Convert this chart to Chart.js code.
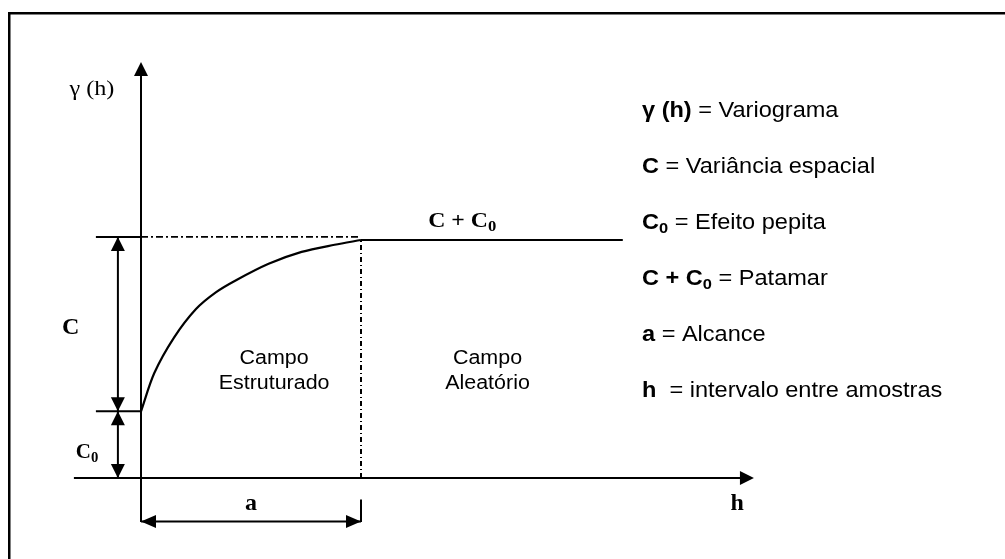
<!DOCTYPE html>
<html>
<head>
<meta charset="utf-8">
<script src="https://cdn.jsdelivr.net/npm/chart.js@4/dist/chart.umd.min.js"></script>
<style>
  html, body { margin: 0; padding: 0; background: #fff; }
  canvas { display: block; }
</style>
</head>
<body>
<canvas id="c" width="1005" height="559"></canvas>
<script>
// Lag distance h (in units of the range a) and semivariance γ(h) (in units of the sill C + C0)
const lagH   = [0, 0.06, 0.15, 0.25, 0.34, 0.43, 0.58, 0.73, 0.88, 1.0];
const gammaH = [0.28, 0.44, 0.59, 0.71, 0.78, 0.83, 0.90, 0.95, 0.98, 1.0];

const nugget = 0.28;       // C0
const sill = 1.0;          // C + C0
const sillGuide = 1.013;   // dash-dot reference level of the sill
const rangeA = 1.0;        // a
const plateauEnd = 2.19;   // end of the flat part of the model

// extent of the two drawn axes
const xAxisSpan = [-0.305, 2.786];
const yAxisSpan = [-0.185, 1.748];

// legend text
const legendSymbols  = [['γ (h)', ''], ['C', ''], ['C', '0'], ['C + C', '0'], ['a', ''], ['h', '']];
const legendMeanings = [' = Variograma', ' = Variância espacial', ' = Efeito pepita', ' = Patamar', ' = Alcance', '  = intervalo entre amostras'];

const dimX = -0.105;      // position of the vertical dimension arrows
const tickFrom = -0.205;  // start of the short level ticks
const dimY = -0.183;      // level of the horizontal dimension arrow for a
const dimTickTop = -0.09;

const SANS = '"Liberation Sans", Arial, sans-serif';
const SERIF = '"Liberation Serif", "Times New Roman", serif';

function seg(points, extra) {
  return Object.assign({
    data: points,
    showLine: true,
    borderColor: '#000',
    borderWidth: 2,
    pointRadius: 0,
    fill: false,
    tension: 0
  }, extra || {});
}

const datasets = [
  // variogram model
  seg(lagH.map((h, i) => ({ x: h, y: gammaH[i] })), { tension: 0.3, borderWidth: 2.2 }),
  // sill plateau
  seg([{ x: rangeA, y: sill }, { x: plateauEnd, y: sill }], { borderWidth: 2 }),
  // dash-dot guide to the sill
  seg([{ x: 0, y: sillGuide }, { x: rangeA, y: sillGuide }], { borderWidth: 1.6, borderDash: [7, 3, 2, 3] }),
  // dash-dot line at the range
  seg([{ x: rangeA, y: 0 }, { x: rangeA, y: sill }], { borderWidth: 2, borderDash: [5, 3, 1, 3] }),
  // axes
  seg([{ x: xAxisSpan[0], y: 0 }, { x: xAxisSpan[1] - 0.05, y: 0 }]),
  seg([{ x: 0, y: yAxisSpan[0] }, { x: 0, y: yAxisSpan[1] - 0.05 }]),
  // level ticks
  seg([{ x: tickFrom, y: sillGuide }, { x: 0, y: sillGuide }]),
  seg([{ x: tickFrom, y: nugget }, { x: 0, y: nugget }]),
  // dimension arrows C and C0
  seg([{ x: dimX, y: nugget }, { x: dimX, y: sillGuide }]),
  seg([{ x: dimX, y: 0 }, { x: dimX, y: nugget }]),
  // dimension arrow a
  seg([{ x: 0, y: dimY }, { x: rangeA, y: dimY }]),
  seg([{ x: rangeA, y: dimTickTop }, { x: rangeA, y: yAxisSpan[0] }])
];

function arrowHead(ctx, x, y, dir, len, half) {
  ctx.beginPath();
  ctx.moveTo(x, y);
  if (dir === 'up')    { ctx.lineTo(x - half, y + len); ctx.lineTo(x + half, y + len); }
  if (dir === 'down')  { ctx.lineTo(x - half, y - len); ctx.lineTo(x + half, y - len); }
  if (dir === 'left')  { ctx.lineTo(x + len, y - half); ctx.lineTo(x + len, y + half); }
  if (dir === 'right') { ctx.lineTo(x - len, y - half); ctx.lineTo(x - len, y + half); }
  ctx.closePath();
  ctx.fill();
}

// draws runs of [text, subscript] with a horizontal stretch; returns the advance
function drawRuns(ctx, runs, x, y, opt) {
  const st = opt.stretch || 1;
  let w = 0;
  runs.forEach(r => {
    ctx.font = `${opt.weight || 'normal'} ${opt.size}px ${opt.family}`;
    w += ctx.measureText(r[0]).width * st;
    if (r[1]) {
      ctx.font = `${opt.weight || 'normal'} ${opt.size * 0.7}px ${opt.family}`;
      w += ctx.measureText(r[1]).width * st;
    }
  });
  let cx = opt.align === 'center' ? x - w / 2 : x;
  const start = cx;
  runs.forEach(r => {
    ctx.font = `${opt.weight || 'normal'} ${opt.size}px ${opt.family}`;
    ctx.save(); ctx.translate(cx, y); ctx.scale(st, 1); ctx.fillText(r[0], 0, 0); ctx.restore();
    cx += ctx.measureText(r[0]).width * st;
    if (r[1]) {
      ctx.font = `${opt.weight || 'normal'} ${opt.size * 0.7}px ${opt.family}`;
      ctx.save(); ctx.translate(cx, y + opt.size * 0.2); ctx.scale(st, 1); ctx.fillText(r[1], 0, 0); ctx.restore();
      cx += ctx.measureText(r[1]).width * st;
    }
  });
  return cx - start;
}

const decorations = {
  id: 'decorations',
  afterDatasetsDraw(chart) {
    const ctx = chart.ctx;
    const X = v => chart.scales.x.getPixelForValue(v);
    const Y = v => chart.scales.y.getPixelForValue(v);
    ctx.save();
    ctx.fillStyle = '#000';

    // page frame
    ctx.fillRect(8, 12, chart.width, 2.5);
    ctx.fillRect(8, 12, 2.5, chart.height);

    // axis arrows
    arrowHead(ctx, X(xAxisSpan[1]), Y(0), 'right', 14, 7);
    arrowHead(ctx, X(0), Y(yAxisSpan[1]), 'up', 14, 7);

    // C and C0 dimension arrows
    arrowHead(ctx, X(dimX), Y(sillGuide), 'up', 14, 7);
    arrowHead(ctx, X(dimX), Y(nugget), 'down', 14, 7);
    arrowHead(ctx, X(dimX), Y(nugget), 'up', 14, 7);
    arrowHead(ctx, X(dimX), Y(0), 'down', 14, 7);

    // a dimension arrow
    arrowHead(ctx, X(0), Y(dimY), 'left', 15, 6.5);
    arrowHead(ctx, X(rangeA), Y(dimY), 'right', 15, 6.5);

    ctx.textBaseline = 'alphabetic';

    // serif labels
    drawRuns(ctx, [['γ (h)', '']], X(-0.223), Y(1.639) + 7, { size: 21, family: SERIF, align: 'center', stretch: 1.15 });
    drawRuns(ctx, [['C', '']], X(-0.32), Y((nugget + sillGuide) / 2) + 10, { size: 24, family: SERIF, weight: 'bold', align: 'center' });
    drawRuns(ctx, [['C', '0']], X(-0.245), Y(nugget / 2) + 13, { size: 21, family: SERIF, weight: 'bold', align: 'center' });
    drawRuns(ctx, [['a', '']], X(rangeA / 2), Y(dimY) - 12, { size: 24, family: SERIF, weight: 'bold', align: 'center' });
    drawRuns(ctx, [['h', '']], X(2.71), Y(0) + 32, { size: 24, family: SERIF, weight: 'bold', align: 'center' });
    drawRuns(ctx, [['C + C', '0']], X(1.46), Y(sill) - 13, { size: 22, family: SERIF, weight: 'bold', align: 'center', stretch: 1.08 });

    // field labels
    const fieldOpt = { size: 19.5, family: SANS, align: 'center', stretch: 1.1 };
    drawRuns(ctx, [['Campo', '']], X(0.605), Y(0.478), fieldOpt);
    drawRuns(ctx, [['Estruturado', '']], X(0.605), Y(0.372), fieldOpt);
    drawRuns(ctx, [['Campo', '']], X(1.575), Y(0.478), fieldOpt);
    drawRuns(ctx, [['Aleatório', '']], X(1.575), Y(0.372), fieldOpt);

    // legend
    legendSymbols.forEach((sym, i) => {
      const bx = 642, by = 117 + 56 * i;
      const w = drawRuns(ctx, [sym], bx, by, { size: 22, family: SANS, weight: 'bold', stretch: 1.07 });
      drawRuns(ctx, [[legendMeanings[i], '']], bx + w, by, { size: 22, family: SANS, stretch: 1.07 });
    });

    ctx.restore();
  }
};

const W = 1005, H = 559;
const px0 = 141, pxPerUnit = 220;   // h = 0 and a = 1 in pixels
const py0 = 478, pyPerUnit = 238;   // γ = 0 and sill = 1 in pixels

new Chart(document.getElementById('c'), {
  type: 'scatter',
  data: { datasets },
  options: {
    responsive: false,
    animation: false,
    devicePixelRatio: 1,
    layout: { padding: 0 },
    plugins: { legend: { display: false }, tooltip: { enabled: false } },
    scales: {
      x: { type: 'linear', display: false, min: -px0 / pxPerUnit, max: (W - px0) / pxPerUnit },
      y: { type: 'linear', display: false, min: -(H - py0) / pyPerUnit, max: py0 / pyPerUnit }
    }
  },
  plugins: [decorations]
});
</script>
</body>
</html>
